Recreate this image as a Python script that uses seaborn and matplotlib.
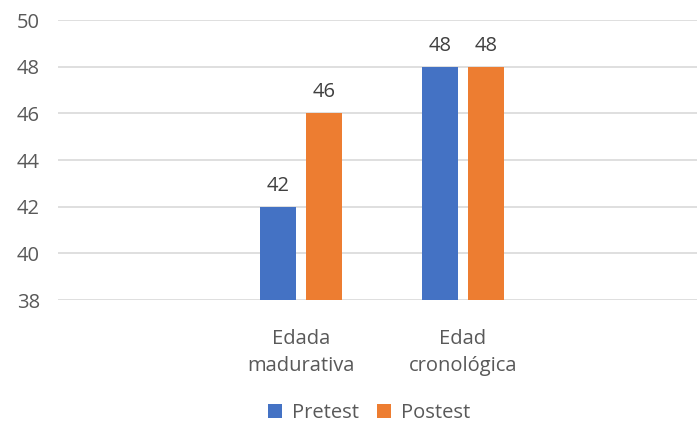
import matplotlib
matplotlib.use("Agg")
import matplotlib.pyplot as plt
import seaborn as sns
import pandas as pd
from matplotlib.patches import Patch

categories = ["Edada\nmadurativa", "Edad\ncronológica"]
series = ["Pretest", "Postest"]
pretest = [42, 48]
postest = [46, 48]
yticks = [38, 40, 42, 44, 46, 48, 50]
colors = ["#4472C4", "#ED7D31"]
text_color = "#595959"

df = pd.DataFrame({
    "cat": categories * 2,
    "serie": [series[0]] * 2 + [series[1]] * 2,
    "val": pretest + postest,
})

sns.set_style("white")
plt.rcParams["font.family"] = ["Open Sans", "DejaVu Sans"]

W, H = 697, 425
FS = 14.5
fig = plt.figure(figsize=(W / 100, H / 100), dpi=100)
ax = fig.add_axes([58 / W, (H - 300) / H, (W - 58) / W, 280 / H])

sns.barplot(data=df, x="cat", y="val", hue="serie", order=categories,
            hue_order=series, palette=colors, width=0.574, gap=0.226,
            ax=ax, legend=False, saturation=1, linewidth=0)

ax.set_ylim(38, 50)
ax.set_xlim(-1.5, (W - 58) / 162 - 1.5)
ax.set_yticks(yticks)
ax.yaxis.grid(True, color="#D9D9D9", linewidth=1.2)
ax.set_axisbelow(True)
for s in ax.spines.values():
    s.set_visible(False)
ax.tick_params(axis="both", length=0, colors=text_color, labelsize=FS)
ax.tick_params(axis="y", pad=13)
ax.tick_params(axis="x", pad=21)
for lbl in ax.get_xticklabels():
    lbl.set_linespacing(1.45)
ax.set_xlabel("")
ax.set_ylabel("")

for cont in ax.containers:
    ax.bar_label(cont, fmt="%g", padding=8, color="#404040", fontsize=FS)

handles = [Patch(facecolor=c, edgecolor="none") for c in colors]
fig.legend(handles, series, loc="center", bbox_to_anchor=(369 / W, 1 - 413 / H),
           ncol=2, frameon=False, fontsize=FS, labelcolor=text_color,
           handlelength=0.7, handleheight=0.7, handletextpad=0.5, columnspacing=0.9)

fig.savefig("out.png", dpi=100)
